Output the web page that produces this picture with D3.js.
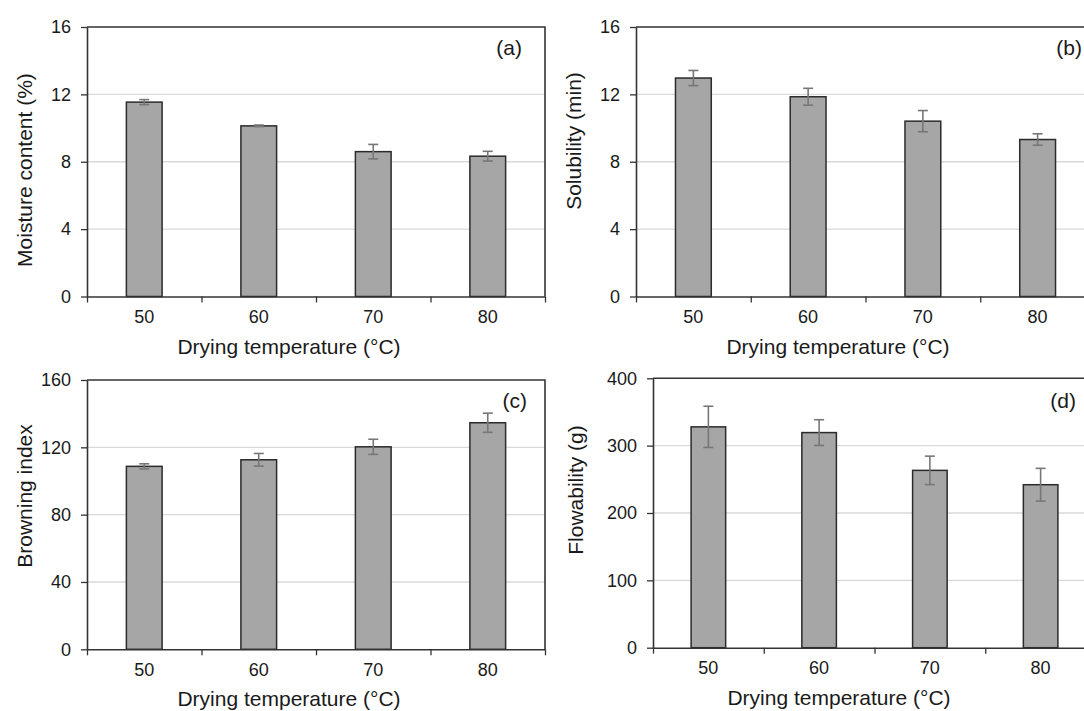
<!DOCTYPE html>
<html>
<head>
<meta charset="utf-8">
<script src="https://cdn.jsdelivr.net/npm/d3@7/dist/d3.min.js"></script>
<style>
  body { margin: 0; background: #fff; }
  svg { display: block; font-family: "Liberation Sans", Arial, sans-serif; }
</style>
</head>
<body>
<div id="chart"></div>
<script>
// categories (drying temperature)
const temps = ["50", "60", "70", "80"];

// values, with error bar half-lengths
const moisture = [11.54, 10.13, 8.6, 8.33];
const moistureErr = [0.15, 0.05, 0.43, 0.29];

const solubility = [12.97, 11.86, 10.41, 9.32];
const solubilityErr = [0.45, 0.5, 0.63, 0.34];

const browning = [108.7, 112.6, 120.3, 134.6];
const browningErr = [1.5, 3.75, 4.5, 5.7];

const flowability = [327.9, 319.4, 263.3, 242.0];
const flowabilityErr = [30.6, 19.1, 21.1, 24.3];

// tick values of the y axes
const ticksMoisture = [0, 4, 8, 12, 16];
const ticksSolubility = [0, 4, 8, 12, 16];
const ticksBrowning = [0, 40, 80, 120, 160];
const ticksFlow = [0, 100, 200, 300, 400];

const xTitle = "Drying temperature (°C)";

var svg = d3.select("#chart")
  .append("svg")
  .attr("width", 1084)
  .attr("height", 711);

// one panel = one little bar chart
function drawPanel(p) {
  var g = svg.append("g");

  var x = d3.scaleBand()
    .domain(temps)
    .range([p.left, p.right])
    .paddingInner(0.688)
    .paddingOuter(0.344);

  // boundaries between categories (tick marks)
  var xb = d3.scaleLinear().domain([0, temps.length]).range([p.left, p.right]);

  var y = d3.scaleLinear()
    .domain([0, p.ticks[p.ticks.length - 1]])
    .range([p.bottom, p.top]);

  // gridlines
  g.append("g")
    .selectAll("line")
    .data(p.ticks.slice(1, -1))
    .enter()
    .append("line")
    .attr("x1", p.left)
    .attr("x2", p.right)
    .attr("y1", d => y(d))
    .attr("y2", d => y(d))
    .style("stroke", "#d9d9d9")
    .style("stroke-width", 1.3);

  // frame top + right
  g.append("path")
    .attr("d", "M" + p.left + "," + y(p.ticks[p.ticks.length - 1]) + "H" + p.right + "V" + p.bottom)
    .style("fill", "none")
    .style("stroke", "#333")
    .style("stroke-width", 1.6);

  // bars
  g.append("g")
    .selectAll("rect")
    .data(p.values)
    .enter()
    .append("rect")
    .attr("x", (d, i) => x(temps[i]))
    .attr("width", x.bandwidth())
    .attr("y", d => y(d))
    .attr("height", d => p.bottom - y(d))
    .style("fill", "#a6a6a6")
    .style("stroke", "#2b2b2b")
    .style("stroke-width", 1.5);

  // error bars
  var eb = g.append("g").style("stroke", "#777").style("stroke-width", 1.6);
  p.values.forEach(function (v, i) {
    var cx = x(temps[i]) + x.bandwidth() / 2;
    var lo = y(v - p.errs[i]), hi = y(v + p.errs[i]);
    eb.append("line").attr("x1", cx).attr("x2", cx).attr("y1", lo).attr("y2", hi);
    eb.append("line").attr("x1", cx - 5).attr("x2", cx + 5).attr("y1", lo).attr("y2", lo);
    eb.append("line").attr("x1", cx - 5).attr("x2", cx + 5).attr("y1", hi).attr("y2", hi);
  });

  // y axis
  var yAxis = g.append("g")
    .attr("transform", "translate(" + p.left + ",0)")
    .call(d3.axisLeft(y).tickValues(p.ticks).tickSize(6).tickSizeOuter(0).tickPadding(10));
  yAxis.select(".domain").style("stroke", "#333").style("stroke-width", 1.6);
  yAxis.selectAll(".tick line").style("stroke", "#333").style("stroke-width", 1.3);
  yAxis.selectAll("text").style("font-size", "18px").style("fill", "#1a1a1a")
    .style("font-family", "Liberation Sans, Arial, sans-serif");

  // x axis: boundary ticks
  var xAxis = g.append("g")
    .attr("transform", "translate(0," + p.bottom + ")")
    .call(d3.axisBottom(xb).ticks(temps.length).tickFormat("").tickSize(6).tickSizeOuter(0));
  xAxis.select(".domain").style("stroke", "#333").style("stroke-width", 1.6);
  xAxis.selectAll(".tick line").style("stroke", "#333").style("stroke-width", 1.3);

  // x axis: category labels
  var xLab = g.append("g")
    .attr("transform", "translate(0," + p.bottom + ")")
    .call(d3.axisBottom(x).tickSize(0).tickPadding(14));
  xLab.select(".domain").remove();
  xLab.selectAll("text").style("font-size", "18px").style("fill", "#1a1a1a")
    .style("font-family", "Liberation Sans, Arial, sans-serif");

  // axis titles
  g.append("text")
    .attr("x", p.xTitleX)
    .attr("y", p.bottom + 57)
    .style("text-anchor", "middle")
    .style("font-size", "21px")
    .style("fill", "#1a1a1a")
    .text(xTitle);

  g.append("text")
    .attr("transform", "translate(" + (p.yTitleX + 7) + "," + p.yTitleY + ") rotate(-90)")
    .style("text-anchor", "middle")
    .style("font-size", "21px")
    .style("fill", "#1a1a1a")
    .text(p.yTitle);

  // panel letter
  g.append("text")
    .attr("x", p.labelX)
    .attr("y", p.labelY)
    .style("text-anchor", "end")
    .style("font-size", "21px")
    .style("fill", "#1a1a1a")
    .text(p.label);
}

drawPanel({ left: 87, right: 545, top: 27, bottom: 296.5, ticks: ticksMoisture,
  values: moisture, errs: moistureErr, yTitle: "Moisture content (%)",
  yTitleX: 25, yTitleY: 170, xTitleX: 289, label: "(a)", labelX: 522, labelY: 55 });

drawPanel({ left: 636, right: 1095, top: 27, bottom: 296.5, ticks: ticksSolubility,
  values: solubility, errs: solubilityErr, yTitle: "Solubility (min)",
  yTitleX: 574, yTitleY: 141, xTitleX: 838, label: "(b)", labelX: 1082, labelY: 55 });

drawPanel({ left: 87, right: 545, top: 380, bottom: 649.3, ticks: ticksBrowning,
  values: browning, errs: browningErr, yTitle: "Browning index",
  yTitleX: 25, yTitleY: 496, xTitleX: 289, label: "(c)", labelX: 527, labelY: 408 });

drawPanel({ left: 653, right: 1096, top: 378.3, bottom: 647.7, ticks: ticksFlow,
  values: flowability, errs: flowabilityErr, yTitle: "Flowability (g)",
  yTitleX: 576, yTitleY: 490, xTitleX: 839, label: "(d)", labelX: 1076, labelY: 408 });
</script>
</body>
</html>
